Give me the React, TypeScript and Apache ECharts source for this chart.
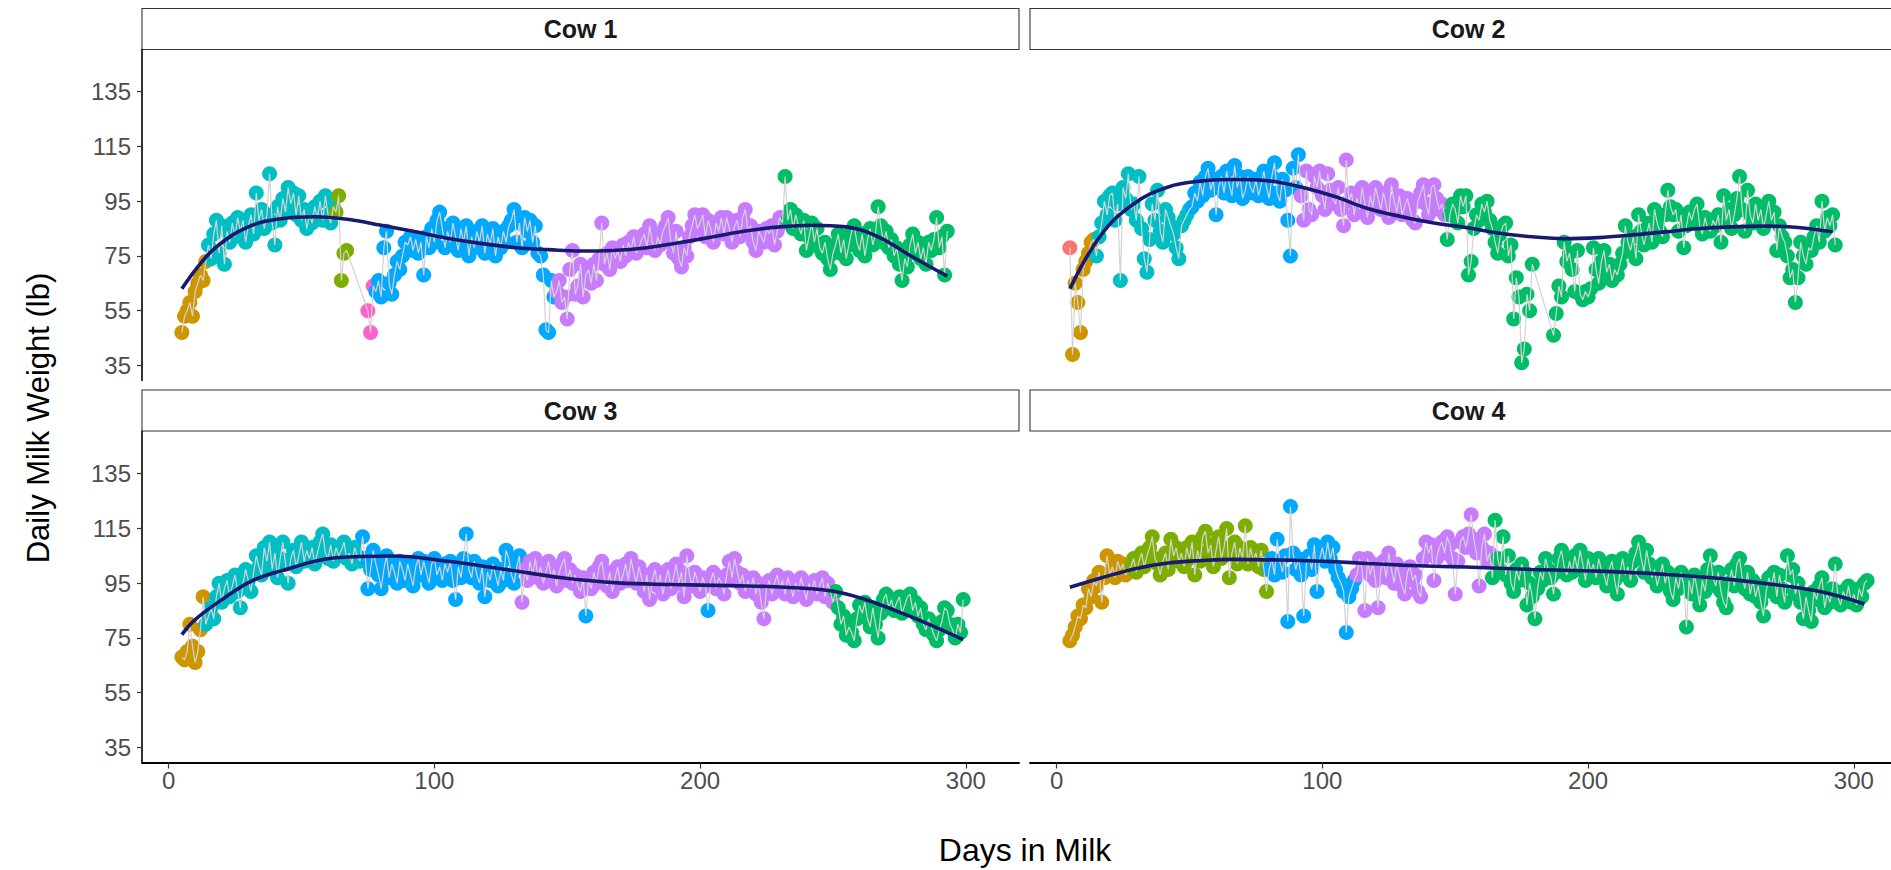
import React, { useEffect, useRef } from 'react';
import * as echarts from 'echarts';

// ---- palette (ggplot hue, 8 groups) ----
const GROUP_COLORS: Record<string, string> = {
  red: '#F8766D', gold: '#CD9600', olive: '#7CAE00', green: '#00BE67',
  cyan: '#00BFC4', blue: '#00A9FF', purple: '#C77CFF', pink: '#FF61CC',
};

// ---- data: [group, first day, daily milk weights (lb)] ----
type Seg = [string, number, number[]];

const cow1Segments: Seg[] = [
  ['gold', 5, [47, 53, 55, 58, 53, 62, 65, 68, 66, 73]],
  ['cyan', 15, [79, 74, 83, 88, 76, 86, 72, 84, 80, 87, 82, 89, 84, 88, 80, 86, 90, 83, 98, 88, 92, 85, 90, 105, 87, 79, 93, 88, 96, 91, 100, 94, 98, 90, 97, 88, 92, 85, 90, 87, 93, 89, 95, 88, 97, 90, 87, 93]],
  ['olive', 63, [91, 97, 66, 76, 77]],
  ['pink', 75, [55, 47, 64]],
  ['blue', 78, [62, 66, 60, 78, 84, 65, 61, 68, 73, 70, 75, 80, 79, 82, 77, 81, 76, 80, 68, 82, 78, 85, 80, 88, 91, 85, 78, 84, 80, 87, 82, 77, 85, 80, 86, 75, 82, 78, 84, 80, 86, 76, 83, 79, 85, 75, 82, 78, 84, 80, 86, 88, 92, 80, 87, 78, 89, 84, 88, 80, 86, 76, 75, 68, 48, 47, 66, 60]],
  ['purple', 146, [62, 66, 58, 60, 52, 70, 77, 61, 64, 72, 60, 68, 70, 65, 72, 66, 74, 87, 72, 76, 70, 78, 74, 77, 73, 79, 75, 80, 77, 82, 76, 78, 81, 83, 78, 86, 80, 77, 82, 79, 84, 86, 89, 80, 76, 84, 74, 71, 78, 75, 82, 86, 90, 85, 87, 90, 82, 88, 85, 80, 87, 84, 89, 83, 89, 85, 80, 86, 88, 82, 89, 92, 84, 86, 80, 77, 84, 82, 80, 85, 83, 86, 79, 84, 89, 87]],
  ['green', 232, [104, 88, 92, 85, 90, 86, 83, 88, 77, 82, 87, 80, 85, 78, 76, 80, 74, 70, 76, 79, 83, 76, 81, 74, 79, 84, 86, 80, 77, 83, 75, 81, 85, 79, 83, 93, 86, 80, 84, 78, 81, 75, 78, 72, 66, 74, 71, 79, 83, 76, 80, 74, 78, 72, 80, 77, 81, 89, 78, 82, 68, 84]],
];

const cow2Segments: Seg[] = [
  ['red', 5, [78]],
  ['gold', 6, [39, 65, 58, 47, 70, 73, 76, 80, 81]],
  ['cyan', 15, [75, 82, 87, 95, 90, 97, 98, 88, 94, 66, 100, 96, 105, 92, 94, 88, 104, 85, 74, 69, 81, 94, 88, 99, 84, 80, 92, 89, 86, 83, 78, 74, 86, 88, 90, 92]],
  ['blue', 51, [93, 98, 95, 102, 97, 104, 107, 99, 103, 90, 100, 104, 98, 106, 101, 97, 108, 100, 104, 96, 99, 104, 100, 98, 103, 97, 101, 106, 100, 96, 104, 109, 98, 95, 103, 99, 88, 75, 107, 100, 112]],
  ['purple', 92, [97, 88, 106, 92, 90, 104, 100, 106, 97, 92, 105, 99, 96, 94, 100, 92, 86, 110, 95, 98, 90, 96, 92, 100, 94, 89, 97, 93, 100, 96, 92, 98, 94, 89, 101, 95, 91, 97, 90, 93, 96, 92, 88, 87, 95, 98, 101, 94, 90, 100, 101, 96, 92, 94, 90]],
  ['green', 147, [81, 90, 94, 92, 87, 97, 93, 97, 68, 73, 85, 90, 88, 94, 91, 95, 88, 85, 80, 76, 83, 86, 87, 75, 79, 52, 67, 60, 36, 41, 61, 55, 72]],
  ['green', 187, [46, 54, 64, 60, 80, 73, 76, 70, 62, 77, 61, 59, 62, 60, 63, 78, 70, 65, 73, 77, 69, 72, 66, 70, 68, 72, 76, 86, 80, 77, 82, 74, 90, 84, 79, 83, 87, 80, 92, 87, 84, 82, 90, 99, 93, 90, 92, 84, 90, 78, 86, 91, 88, 92, 94, 86, 83, 89, 85, 84, 88, 86, 90, 80, 97, 88, 92, 85, 90, 96, 104, 92, 84, 99, 90, 87, 94, 88, 92, 85, 90, 95, 88, 91, 77, 86, 82, 80, 75, 67, 70, 58, 67, 80, 75, 72, 78, 77, 82, 86, 80, 95, 84, 89, 86, 90, 79]],
];

const cow3Segments: Seg[] = [
  ['gold', 5, [68, 67, 70, 80, 72, 66, 70, 78, 90]],
  ['cyan', 14, [80, 83, 86, 82, 90, 95, 88, 93, 96, 90, 94, 98, 92, 86, 95, 100, 96, 92, 99, 105, 101, 98, 108, 103, 110, 100, 106, 97, 104, 110, 102, 95, 104, 107, 101, 105, 110, 103, 107, 104, 108, 102, 106, 110, 113, 106, 104, 109, 103, 108, 105, 107, 110, 104, 106, 102, 108, 105, 103]],
  ['blue', 73, [112, 104, 93, 100, 107, 102, 98, 93, 100, 105, 97, 102, 99, 95, 103, 100, 96, 102, 98, 94, 101, 104, 98, 103, 99, 95, 102, 104, 98, 101, 96, 102, 99, 103, 96, 89, 101, 97, 104, 113, 100, 97, 103, 98, 95, 101, 90, 99, 96, 102, 98, 94, 100, 96, 107, 104, 98, 95, 101, 105]],
  ['purple', 133, [88, 100, 96, 103, 98, 104, 97, 101, 95, 99, 103, 97, 100, 94, 99, 102, 104, 96, 100, 95, 98, 94, 92, 97]],
  ['blue', 157, [83]],
  ['purple', 158, [96, 93, 99, 95, 101, 103, 97, 94, 99, 92, 97, 101, 95, 98, 102, 96, 104, 99, 95, 101, 97, 92, 98, 89, 96, 100, 94, 98, 91, 96, 100, 93, 97, 102, 95, 99, 90, 105, 98, 94, 99, 96, 92, 97, 94]],
  ['blue', 203, [85]],
  ['purple', 204, [96, 99, 93, 97, 95, 91, 98, 103, 97, 104, 99, 95, 98, 92, 96, 93, 97, 91, 95, 88, 82, 93, 96, 91, 95, 98, 93, 96, 91, 97, 94, 90, 95, 92, 97, 93, 89, 95, 92, 96, 91, 94, 97, 90, 95, 92, 88]],
  ['green', 251, [92, 86, 80, 83, 76, 79, 77, 74, 82, 87, 84, 88, 82, 79, 86, 80, 75, 84, 89, 91, 86, 89, 85, 88, 90, 84, 87, 90, 91, 85, 88, 83, 86, 80, 78, 82, 79, 76, 74, 78, 81, 86, 85, 80, 78, 75, 80, 77, 89]],
];

const cow4Segments: Seg[] = [
  ['gold', 5, [74, 76, 79, 83, 82, 87, 86, 93, 90, 96, 94, 99, 88, 97, 105, 98, 101, 97, 103, 100, 102, 98, 100]],
  ['olive', 28, [101, 104, 99, 103, 106, 101, 105, 108, 112, 104, 102, 98, 103, 106, 100, 111, 105, 108, 103, 106, 101, 108, 104, 110, 98, 107, 103, 112, 114, 106, 109, 101, 107, 112, 104, 108, 115, 97, 106, 110, 102, 108, 104, 116, 102, 108, 103, 106, 101, 107, 100, 92]],
  ['blue', 80, [100, 104, 98, 111, 103, 99, 105, 81, 123, 106, 100, 104, 98, 83, 102, 105, 100, 109, 92, 104, 108, 103, 110, 104, 108, 100, 97, 95, 92, 77, 90, 93, 96]],
  ['purple', 113, [98, 104, 100, 85, 104, 98, 102, 96, 86, 100, 103, 97, 106, 100, 95, 102, 98, 94, 91, 99, 101, 96, 98, 92, 90, 104, 110, 106, 109, 96, 104, 108, 110, 106, 112, 109, 104, 91, 103, 110, 112, 108, 113, 120, 111, 106, 94, 108, 113, 103, 106]],
  ['green', 164, [97, 118, 104, 100, 112, 98, 105, 95, 92, 100, 96, 102, 99, 87, 95, 90, 82, 93, 99, 96, 104, 100, 97, 91, 99, 104, 107, 101, 98, 103, 99, 105, 100, 107, 102, 96, 104, 99, 102, 97, 104, 100, 98, 94, 100, 103, 96, 91, 99, 104, 98, 101, 96, 103, 106, 110, 104, 99, 107, 102, 97, 100, 94, 98, 102, 95, 99, 92, 89, 97, 93, 99, 94, 79, 96, 91, 98, 93, 87, 96, 92, 100, 105, 97, 94, 99, 92, 88, 86, 95, 100, 94, 102, 104, 97, 93, 99, 91, 96, 90, 94, 88, 83, 92, 97, 94, 99, 90, 98, 93, 88, 105, 98, 100, 91, 95, 88, 82, 90, 85, 81, 92, 89, 94, 97, 86, 91, 88, 93, 102, 90, 87, 92, 89, 94, 88, 91, 87, 93, 90, 95, 96]],
];

// ---- fitted lactation curves ----
const cow1SmoothDays = [5, 11, 18, 30, 43, 55, 68, 80, 93, 106, 118, 131, 143, 155, 167, 180, 192, 205, 217, 230, 242, 255, 267, 280, 293];
const cow1Smooth = [63, 71, 78.3, 85.6, 88.7, 89.3, 88.3, 86.2, 83.8, 81.3, 79.5, 78, 77.3, 76.8, 77, 78, 79.8, 82, 84.1, 85.6, 86.2, 85.6, 82, 74.6, 67.6];
const cow2SmoothDays = [5, 17, 29, 42, 55, 67, 80, 92, 105, 117, 130, 142, 154, 166, 179, 191, 204, 216, 229, 241, 254, 267, 279, 292];
const cow2Smooth = [63, 83, 94, 100.2, 102.4, 102.9, 102.4, 100.2, 96.6, 92.3, 89.3, 87, 85.4, 83.4, 82, 81.3, 81.7, 82.6, 83.8, 84.9, 85.6, 85.9, 85.4, 83.8];
const cow3SmoothDays = [5, 10, 21, 31, 42, 63, 84, 105, 127, 148, 169, 190, 211, 232, 253, 274, 299];
const cow3Smooth = [76.2, 81.7, 89.6, 95.7, 99.4, 104.3, 104.9, 103, 100, 97, 95.1, 94.5, 94.1, 93.5, 91.5, 84.8, 74.4];
const cow4SmoothDays = [5, 17, 30, 42, 55, 67, 80, 92, 105, 117, 130, 142, 154, 179, 204, 229, 254, 279, 292, 304];
const cow4Smooth = [93.5, 97, 100.4, 102.4, 103.3, 103.7, 103.5, 103.3, 102.8, 102.2, 101.6, 101.2, 100.9, 100, 99.4, 98.2, 96.3, 93.3, 90.9, 87.4];

const cowTitles = ['Cow 1', 'Cow 2', 'Cow 3', 'Cow 4'];
const X_TICKS = [0, 100, 200, 300];
const Y_TICKS = [35, 55, 75, 95, 115, 135];
const X_TITLE = 'Days in Milk';
const Y_TITLE = 'Daily Milk Weight (lb)';

const cows = [
  { segs: cow1Segments, sd: cow1SmoothDays, sv: cow1Smooth },
  { segs: cow2Segments, sd: cow2SmoothDays, sv: cow2Smooth },
  { segs: cow3Segments, sd: cow3SmoothDays, sv: cow3Smooth },
  { segs: cow4Segments, sd: cow4SmoothDays, sv: cow4Smooth },
];

const FONT = '"Liberation Sans", Arial, Helvetica, sans-serif';

export default function App() {
  const ref = useRef<HTMLDivElement>(null);
  useEffect(() => {
    document.body.style.margin = '0';
    if (!ref.current) return;
    const chart = echarts.init(ref.current, undefined, { renderer: 'svg' });

    const PW = 877, PH = 331;
    const lefts = [142, 1030, 142, 1030];
    const tops = [49.5, 49.5, 431.5, 431.5];
    const stripTops = [8.5, 8.5, 390, 390];

    const grids = lefts.map((l, i) => ({
      left: l, top: tops[i], width: PW, height: PH,
      containLabel: false, outerBoundsMode: 'none',
    }));

    const xAxes = lefts.map((_, i) => {
      const bottom = i >= 2;
      return {
        type: 'value', gridIndex: i, min: -10, max: 320,
        splitLine: { show: false },
        axisLine: { show: bottom, onZero: false, lineStyle: { color: '#000', width: 1.8 } },
        axisTick: { show: bottom, length: 6, customValues: X_TICKS, lineStyle: { color: '#333', width: 1.2 } },
        axisLabel: { show: bottom, customValues: X_TICKS, margin: 6, color: '#4D4D4D', fontSize: 24, fontFamily: FONT },
      };
    });
    const yAxes = lefts.map((_, i) => {
      const left = i % 2 === 0;
      return {
        type: 'value', gridIndex: i, min: 29.5, max: 150.4,
        splitLine: { show: false },
        axisLine: { show: left, onZero: false, lineStyle: { color: '#000', width: 1.6 } },
        axisTick: { show: left, length: 5, customValues: Y_TICKS, lineStyle: { color: '#333', width: 1.2 } },
        axisLabel: { show: left, customValues: Y_TICKS, margin: 11, color: '#4D4D4D', fontSize: 24, fontFamily: FONT },
      };
    });

    const series: any[] = [];
    cows.forEach((cow, i) => {
      const all: [number, number][] = [];
      cow.segs.forEach(([g, start, vals]) => {
        const pts = vals.map((v, k) => [start + k, v] as [number, number]);
        all.push(...pts);
        series.push({
          type: 'scatter', xAxisIndex: i, yAxisIndex: i, data: pts,
          symbol: 'circle', symbolSize: 15, itemStyle: { color: GROUP_COLORS[g], opacity: 1 },
          z: 2, silent: true,
        });
      });
      all.sort((a, b) => a[0] - b[0]);
      series.push({
        type: 'line', xAxisIndex: i, yAxisIndex: i, data: all, showSymbol: false, symbol: 'none',
        lineStyle: { color: '#D3D3D3', width: 1.2 }, z: 3, silent: true,
      });
      series.push({
        type: 'line', xAxisIndex: i, yAxisIndex: i, smooth: 0.4, showSymbol: false, symbol: 'none',
        data: cow.sd.map((d, k) => [d, cow.sv[k]]),
        lineStyle: { color: '#191970', width: 3.6 }, z: 4, silent: true,
      });
    });

    const graphic: any[] = [];
    lefts.forEach((l, i) => {
      graphic.push({
        type: 'rect', shape: { x: l, y: stripTops[i], width: PW, height: 41 },
        style: { fill: '#FFFFFF', stroke: '#333333', lineWidth: 1.1 }, silent: true,
      });
      graphic.push({
        type: 'text', x: l + PW / 2, y: stripTops[i] + 20.5,
        style: {
          text: cowTitles[i], fill: '#1A1A1A', fontSize: 25, fontWeight: 'bold', fontFamily: FONT,
          align: 'center', verticalAlign: 'middle',
        }, silent: true,
      });
    });
    graphic.push({
      type: 'text', x: 38, y: 418, rotation: Math.PI / 2,
      style: { text: Y_TITLE, fill: '#000', fontSize: 31, fontFamily: FONT, align: 'center', verticalAlign: 'middle' },
      silent: true,
    });
    graphic.push({
      type: 'text', x: 1025, y: 850,
      style: { text: X_TITLE, fill: '#000', fontSize: 32, fontFamily: FONT, align: 'center', verticalAlign: 'middle' },
      silent: true,
    });

    chart.setOption({
      animation: false,
      backgroundColor: '#FFFFFF',
      grid: grids,
      xAxis: xAxes,
      yAxis: yAxes,
      series,
      graphic,
    });
    return () => chart.dispose();
  }, []);

  return <div ref={ref} style={{ position: 'absolute', left: 0, top: 0, width: 1891, height: 870 }} />;
}
